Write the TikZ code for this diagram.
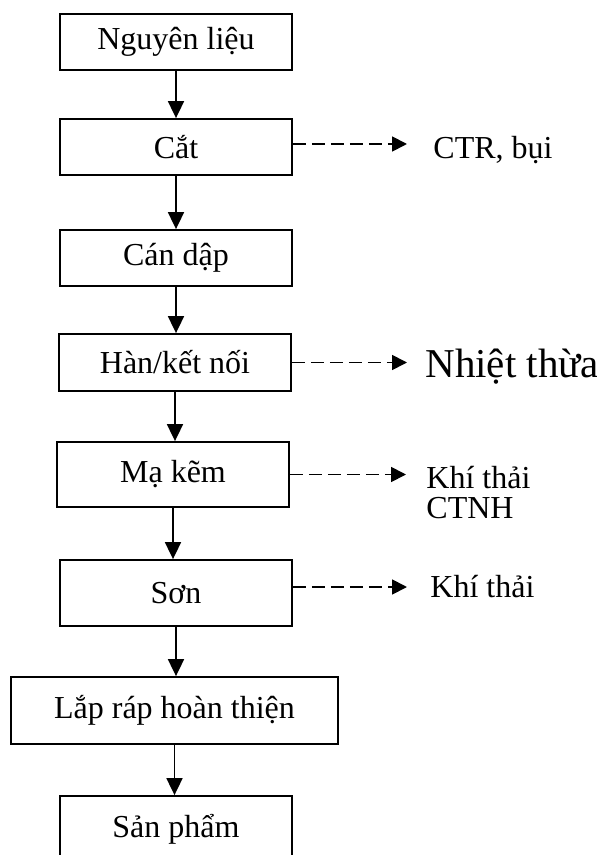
\documentclass[tikz,border=0pt]{standalone}
\usepackage{fontspec}
\setmainfont{Liberation Serif}
\usepackage{tikz}
\usetikzlibrary{positioning,arrows.meta,calc}
\definecolor{sxBlack}{HTML}{000000}
\definecolor{sxWhite}{HTML}{FFFFFF}
\tikzset{
  sx-box/.style={
    draw=sxBlack, line width=0.9pt, fill=sxWhite,
    font=\fontsize{16}{19}\selectfont, align=center,
    inner sep=2pt, minimum width=116pt, minimum height=28pt
  },
  sx-flow/.style={-{Triangle[length=8.5pt,width=8pt]}, line width=0.9pt, draw=sxBlack},
  sx-flow-d/.style={-{Triangle[length=7.5pt,width=7.5pt]}, line width=0.9pt,
    draw=sxBlack, dash pattern=on 6.5pt off 3pt},
  sx-label/.style={font=\fontsize{16}{15}\selectfont, align=left,
    inner sep=0pt, anchor=base west}
}
\begin{document}
\begin{tikzpicture}[x=0.5pt, y=-0.5pt]
\useasboundingbox[fill=sxWhite] (0,0) rectangle (597,855);
% --- Quy trinh ---
\node[sx-box] (raw) at (176,42) {Nguyên liệu};
\node[sx-box] (cut) at (176,147) {Cắt};
\node[sx-box] (roll) at (176,258) {Cán dập};
\node[sx-box, minimum height=28.5pt] (weld) at (175,362.5) {Hàn/kết nối};
\node[sx-box, minimum height=32.5pt] (zinc) at (173,474.5) {Mạ kẽm};
\node[sx-box, minimum height=33pt] (paint) at (176,593) {Sơn};
\node[sx-box, minimum width=163.5pt, minimum height=33.5pt] (asm) at (174.5,710.5)
  {Lắp ráp hoàn thiện};
\node[sx-box, minimum height=33pt] (prod) at (176,829) {Sản phẩm};

% --- Chat thai ---
\node[sx-label] (dust) at (433,159) {CTR, bụi};
\node[sx-label, font=\fontsize{20.5}{24}\selectfont] (heat) at (425,377) {Nhiệt thừa};
\node[sx-label] (gas1) at (426,518) {Khí thải\\CTNH};
\node[sx-label] (gas2) at (430,597) {Khí thải};

% --- Luong ---
\draw[sx-flow] (raw) -- (raw |- cut.north);
\draw[sx-flow] (cut) -- (cut |- roll.north);
\draw[sx-flow] (roll) -- (roll |- weld.north);
\draw[sx-flow] (weld) -- (weld |- zinc.north);
\draw[sx-flow] (zinc) -- (zinc |- paint.north);
\draw[sx-flow] (paint) -- (paint |- asm.north);
\draw[sx-flow] (asm) -- (asm |- prod.north);
\draw[sx-flow-d, shorten >=13pt] ([yshift=1.5pt]cut.east) -- ([yshift=1.5pt]cut.east -| dust.west);
\draw[sx-flow-d, shorten >=9pt] (weld.east) -- (weld.east -| heat.west);
\draw[sx-flow-d, shorten >=10pt] (zinc.east) -- (zinc.east -| gas1.west);
\draw[sx-flow-d, shorten >=11.5pt] ([yshift=3pt]paint.east) -- ([yshift=3pt]paint.east -| gas2.west);
\end{tikzpicture}
\end{document}
